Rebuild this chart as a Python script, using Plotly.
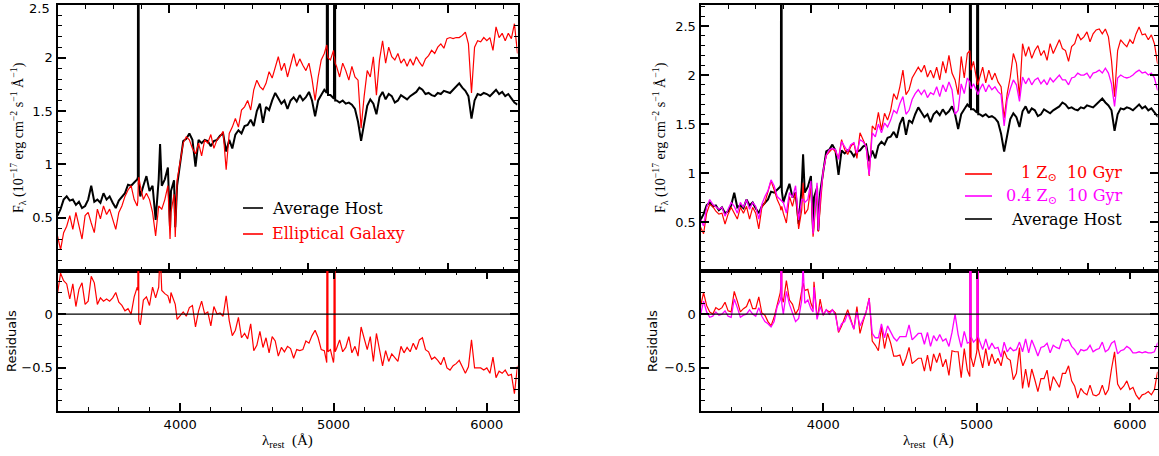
import numpy as np
import plotly.graph_objects as go

# ---------------- data (rest wavelength in Angstrom, flux in 1e-17 erg/cm2/s/A) ----------------
WAVE = [
    3200, 3220, 3240, 3260, 3280, 3300, 3320, 3340, 3360, 3380,
    3400, 3420, 3440, 3460, 3480, 3500, 3520, 3540, 3560, 3580,
    3600, 3620, 3640, 3660, 3680, 3700, 3720, 3724, 3727, 3730, 3740, 3760, 3780,
    3800, 3820, 3840, 3860, 3869, 3880, 3900, 3920, 3934, 3940, 3960, 3968, 3980,
    4000, 4020, 4040, 4060, 4080, 4100, 4120, 4140, 4160, 4180,
    4200, 4220, 4240, 4260, 4280, 4300, 4320, 4340, 4360, 4380,
    4400, 4420, 4440, 4460, 4480, 4500, 4520, 4540, 4560, 4580,
    4600, 4620, 4640, 4660, 4680, 4700, 4720, 4740, 4760, 4780,
    4800, 4820, 4840, 4860, 4880, 4900, 4920, 4940, 4956, 4960, 4964, 4980, 5000, 5003, 5007, 5011,
    5020, 5040, 5060, 5080, 5100, 5120, 5140, 5160, 5180,
    5200, 5220, 5240, 5260, 5280, 5300, 5320, 5340, 5360, 5380,
    5400, 5420, 5440, 5460, 5480, 5500, 5520, 5540, 5560, 5580,
    5600, 5620, 5640, 5660, 5680, 5700, 5720, 5740, 5760, 5780,
    5800, 5820, 5840, 5860, 5880, 5900, 5920, 5940, 5960, 5980,
    6000, 6020, 6040, 6060, 6080, 6100, 6120, 6140, 6160, 6180,
    6200,
]

HOST = [
    0.52, 0.58, 0.67, 0.70, 0.66, 0.67, 0.62, 0.65, 0.59, 0.61,
    0.67, 0.80, 0.65, 0.67, 0.64, 0.73, 0.67, 0.70, 0.64, 0.59,
    0.66, 0.69, 0.73, 0.81, 0.80, 0.83, 0.86, 0.88, 8.00, 0.82, 0.70, 0.80, 0.89,
    0.75, 0.80, 0.48, 0.86, 1.19, 0.80, 0.86, 0.97, 0.40, 0.75, 0.85, 0.41, 0.80,
    1.01, 1.22, 1.24, 1.29, 1.23, 0.98, 1.23, 1.20, 1.23, 1.22,
    1.17, 1.22, 1.23, 1.27, 1.29, 1.12, 1.23, 1.15, 1.28, 1.32,
    1.29, 1.36, 1.37, 1.42, 1.36, 1.50, 1.57, 1.39, 1.54, 1.51,
    1.60, 1.67, 1.62, 1.57, 1.60, 1.52, 1.60, 1.63, 1.59, 1.65,
    1.60, 1.63, 1.68, 1.60, 1.45, 1.60, 1.65, 1.70, 1.67, 8.00, 1.65, 1.65, 1.62, 1.62, 8.00, 1.60,
    1.60, 1.58, 1.60, 1.57, 1.58, 1.56, 1.52, 1.40, 1.22,
    1.40, 1.55, 1.61, 1.57, 1.47, 1.63, 1.68, 1.61, 1.66, 1.64,
    1.58, 1.60, 1.65, 1.63, 1.61, 1.64, 1.66, 1.68, 1.72, 1.70,
    1.66, 1.67, 1.65, 1.64, 1.67, 1.66, 1.69, 1.68, 1.67, 1.70,
    1.73, 1.76, 1.72, 1.69, 1.64, 1.43, 1.60, 1.66, 1.65, 1.67,
    1.66, 1.64, 1.67, 1.70, 1.66, 1.68, 1.64, 1.66, 1.62, 1.58,
    1.56,
]

ELLIPTICAL = [
    0.33, 0.20, 0.36, 0.42, 0.52, 0.39, 0.55, 0.42, 0.30, 0.52,
    0.55, 0.45, 0.36, 0.58, 0.49, 0.61, 0.53, 0.58, 0.49, 0.39,
    0.55, 0.61, 0.70, 0.76, 0.80, 0.67, 0.61, 0.66, 0.82, 0.88, 0.80, 0.67, 0.73,
    0.67, 0.55, 0.33, 0.61, 0.60, 0.58, 0.67, 0.80, 0.30, 0.55, 0.72, 0.32, 0.85,
    1.02, 1.20, 1.26, 1.23, 1.15, 1.10, 1.20, 1.08, 1.23, 1.20,
    1.28, 1.15, 1.23, 1.26, 1.31, 0.95, 1.29, 1.35, 1.43, 1.35,
    1.51, 1.54, 1.60, 1.51, 1.70, 1.79, 1.73, 1.70, 1.76, 1.87,
    1.81, 1.92, 2.01, 1.88, 1.95, 1.82, 1.92, 2.04, 1.92, 1.99,
    1.93, 1.88, 1.95, 1.80, 1.60, 1.82, 1.98, 2.04, 2.12, 2.05, 2.00, 1.98, 2.07, 2.02, 2.00, 1.95,
    1.92, 1.82, 1.95, 1.88, 1.79, 1.92, 1.82, 1.79, 1.34,
    1.64, 1.88, 1.82, 2.01, 1.65, 1.98, 2.16, 1.95, 2.10, 2.01,
    1.98, 2.04, 1.95, 1.99, 1.92, 1.99, 1.93, 2.01, 1.96, 1.92,
    1.99, 2.02, 2.07, 2.04, 2.10, 2.13, 2.09, 2.18, 2.19, 2.18,
    2.19, 2.19, 2.21, 2.24, 2.13, 1.67, 2.10, 2.16, 2.15, 2.19,
    2.16, 2.19, 2.07, 2.29, 2.19, 2.23, 2.16, 2.23, 2.18, 2.32,
    2.04,
]

SSP_1Z_10GYR = [
    0.45, 0.38, 0.59, 0.68, 0.66, 0.61, 0.58, 0.59, 0.48, 0.58,
    0.65, 0.59, 0.53, 0.65, 0.59, 0.66, 0.53, 0.65, 0.59, 0.43,
    0.65, 0.70, 0.80, 0.92, 0.83, 0.73, 0.66, 0.62, 0.64, 0.66, 0.59, 0.49, 0.76,
    0.66, 0.80, 0.43, 0.62, 0.90, 0.58, 0.63, 0.87, 0.35, 0.45, 0.87, 0.40, 0.66,
    1.02, 1.18, 1.22, 1.25, 1.22, 1.15, 1.34, 1.24, 1.19, 1.27,
    1.31, 1.15, 1.41, 1.34, 1.27, 0.97, 1.48, 1.44, 1.62, 1.44,
    1.61, 1.54, 1.64, 1.81, 1.75, 1.88, 2.05, 1.80, 1.85, 1.97,
    2.03, 2.08, 2.03, 2.10, 1.98, 2.05, 1.97, 2.08, 1.95, 2.14,
    2.02, 2.20, 2.02, 1.95, 1.80, 2.19, 1.97, 2.22, 2.25, 2.10, 2.05, 2.14, 1.98, 1.95, 1.90, 1.92,
    1.98, 2.08, 1.92, 2.05, 1.95, 2.02, 1.93, 1.88, 1.56,
    1.81, 1.98, 2.22, 2.12, 1.78, 2.32, 2.19, 2.29, 2.17, 2.25,
    2.30, 2.20, 2.25, 2.15, 2.32, 2.22, 2.29, 2.36, 2.27, 2.25,
    2.14, 2.29, 2.32, 2.42, 2.36, 2.39, 2.44, 2.34, 2.42, 2.46,
    2.47, 2.42, 2.47, 2.39, 2.15, 1.78, 2.25, 2.36, 2.32, 2.29,
    2.36, 2.32, 2.42, 2.49, 2.41, 2.42, 2.36, 2.41, 2.32, 2.12,
    2.10,
]

SSP_04Z_10GYR = [
    0.53, 0.46, 0.65, 0.73, 0.68, 0.65, 0.63, 0.65, 0.56, 0.63,
    0.70, 0.66, 0.59, 0.70, 0.65, 0.73, 0.63, 0.70, 0.66, 0.53,
    0.68, 0.76, 0.82, 0.93, 0.87, 0.76, 0.73, 0.72, 0.72, 0.72, 0.70, 0.59, 0.80,
    0.75, 0.87, 0.52, 0.73, 0.73, 0.70, 0.73, 0.92, 0.38, 0.50, 0.90, 0.42, 0.73,
    1.02, 1.18, 1.24, 1.25, 1.24, 1.14, 1.32, 1.27, 1.22, 1.29,
    1.31, 1.20, 1.34, 1.32, 1.27, 0.98, 1.41, 1.37, 1.50, 1.41,
    1.51, 1.47, 1.54, 1.64, 1.61, 1.71, 1.78, 1.60, 1.64, 1.75,
    1.81, 1.85, 1.80, 1.85, 1.77, 1.82, 1.80, 1.88, 1.78, 1.90,
    1.83, 1.93, 1.85, 1.60, 1.64, 1.91, 1.81, 1.97, 1.93, 1.88, 1.86, 1.91, 1.85, 1.83, 1.80, 1.81,
    1.85, 1.91, 1.83, 1.90, 1.85, 1.88, 1.83, 1.80, 1.48,
    1.75, 1.86, 1.95, 1.90, 1.73, 1.98, 1.91, 1.97, 1.90, 1.95,
    1.97, 1.91, 1.95, 1.90, 1.97, 1.93, 1.97, 2.00, 1.95, 1.95,
    1.90, 1.97, 1.98, 2.02, 2.00, 2.00, 2.02, 1.97, 2.02, 2.03,
    2.05, 2.02, 2.07, 2.02, 1.91, 1.68, 1.97, 2.00, 1.98, 1.97,
    1.98, 2.00, 2.03, 2.05, 2.02, 2.03, 2.00, 2.02, 1.97, 1.85,
    1.85,
]

# residuals shown in the lower panels: host minus template
host = np.array(HOST)
RES_ELL = host - np.array(ELLIPTICAL)
RES_1Z = host - np.array(SSP_1Z_10GYR)
RES_04Z = host - np.array(SSP_04Z_10GYR)

# axis ticks
X_MAJOR = [4000, 5000, 6000]
X_MINOR = [3200, 3400, 3600, 3800, 4200, 4400, 4600, 4800, 5200, 5400, 5600, 5800, 6200, 6400]
Y_UP_TICKS = [0.5, 1, 1.5, 2, 2.5]
Y_UP_TEXT = ["0.5", "1", "1.5", "2", "2.5"]
Y_LO_TICKS = [-0.5, 0]
Y_LO_TEXT = ["\u22120.5", "0"]

# ---------------- layout geometry ----------------
FW, FH = 1159, 456
def fx(p):
    return p / FW
def fy(p):
    return (FH - p) / FH

XL = [fx(57.5), fx(517.5)]
XR = [fx(700.5), fx(1157.5)]
YU = [fy(271), fy(4.5)]
YD = [fy(411), fy(271)]
XRANGE_L = [3200, 6200]
XRANGE_R = [3200, 6180]
YRANGE_UL = [0, 2.5]
YRANGE_UR = [0, 2.72]

# the original top panels draw their tick marks on a 3200-6500 scale
def top_scale(xr, vals):
    return [xr[0] + (v - 3200) * (xr[1] - xr[0]) / 3300.0 for v in vals]

RED = "#ff0000"
MAG = "#ff00ff"

fig = go.Figure()

def line(x, y, xa, ya, color, width):
    fig.add_trace(go.Scatter(x=x, y=y, mode="lines", xaxis=xa, yaxis=ya,
                             line=dict(color=color, width=width), showlegend=False,
                             hoverinfo="skip"))

# upper left
line(WAVE, HOST, "x", "y", "black", 2.0)
line(WAVE, ELLIPTICAL, "x", "y", RED, 1.2)
# lower left
line(WAVE, RES_ELL, "x2", "y2", RED, 1.2)
# upper right
line(WAVE, HOST, "x3", "y3", "black", 2.0)
line(WAVE, SSP_1Z_10GYR, "x3", "y3", RED, 1.2)
line(WAVE, SSP_04Z_10GYR, "x3", "y3", MAG, 1.3)
# lower right
line(WAVE, RES_1Z, "x4", "y4", RED, 1.2)
line(WAVE, RES_04Z, "x4", "y4", MAG, 1.3)

TICKFONT = dict(family="DejaVu Sans", size=13, color="black")
base = dict(showline=True, linewidth=2, linecolor="black", mirror="allticks",
            ticks="inside", ticklen=8, tickwidth=1.5, tickcolor="black",
            showgrid=False, zeroline=False, tickfont=TICKFONT, fixedrange=True)

def xaxis_top(dom, xr, anchor):
    return dict(base, domain=dom, range=xr, anchor=anchor, showticklabels=False,
                tickmode="array", tickvals=top_scale(xr, X_MAJOR),
                minor=dict(ticks="inside", ticklen=4, tickwidth=1.2, tickcolor="black",
                           tickmode="array", tickvals=top_scale(xr, X_MINOR), showgrid=False))

def xaxis_bot(dom, xr, anchor):
    return dict(base, domain=dom, range=xr, anchor=anchor, showticklabels=True,
                tickmode="array", tickvals=X_MAJOR, ticktext=[str(v) for v in X_MAJOR],
                minor=dict(ticks="inside", ticklen=4, tickwidth=1.2, tickcolor="black",
                           tickmode="array", tickvals=X_MINOR, showgrid=False))

def yaxis_up(dom, yr, anchor):
    # labels that would sit on the very top edge are written as annotations below
    vals = [v for v in Y_UP_TICKS if v < yr[1] - 1e-9]
    text = [t for v, t in zip(Y_UP_TICKS, Y_UP_TEXT) if v < yr[1] - 1e-9]
    return dict(base, domain=dom, range=yr, anchor=anchor, tickmode="array",
                tickvals=vals, ticktext=text,
                minor=dict(ticks="inside", ticklen=4, tickwidth=1.2, tickcolor="black",
                           dtick=0.1, tick0=0, showgrid=False))

def yaxis_lo(dom, yr, anchor):
    return dict(base, domain=dom, range=yr, anchor=anchor, tickmode="array",
                tickvals=Y_LO_TICKS, ticktext=Y_LO_TEXT,
                minor=dict(ticks="inside", ticklen=4, tickwidth=1.2, tickcolor="black",
                           dtick=0.1, tick0=0, showgrid=False))

fig.update_layout(
    width=FW, height=FH, margin=dict(l=0, r=0, t=0, b=0),
    paper_bgcolor="white", plot_bgcolor="white", showlegend=False,
    xaxis=xaxis_top(XL, XRANGE_L, "y"),
    yaxis=yaxis_up(YU, YRANGE_UL, "x"),
    xaxis2=xaxis_bot(XL, XRANGE_L, "y2"),
    yaxis2=yaxis_lo(YD, [-0.9, 0.4], "x2"),
    xaxis3=xaxis_top(XR, XRANGE_R, "y3"),
    yaxis3=yaxis_up(YU, YRANGE_UR, "x3"),
    xaxis4=xaxis_bot(XR, XRANGE_R, "y4"),
    yaxis4=yaxis_lo(YD, [-0.9, 0.4], "x4"),
)

# zero lines in residual panels
for xa, ya in (("x2", "y2"), ("x4", "y4")):
    fig.add_shape(type="line", xref=xa + " domain", yref=ya, x0=0, x1=1, y0=0, y1=0,
                  line=dict(color="black", width=1.2), layer="above")

SERIF = "Liberation Serif"
ytitle = ("F<sub>\u03bb</sub> (10<sup>\u221217</sup> erg cm<sup>\u22122</sup> "
          "s<sup>\u22121</sup> \u00c5<sup>\u22121</sup>)")
xtitle = "\u03bb<sub>rest</sub>  (\u00c5)"

ann = []
# top-edge tick label of the upper-left panel (kept inside the page)
ann.append(dict(x=fx(51), y=1.0, xref="paper", yref="paper", text="2.5",
                showarrow=False, xanchor="right", yanchor="top", borderpad=0,
                font=TICKFONT))
for xc in (18, 660):
    ann.append(dict(x=fx(xc), y=fy(138), xref="paper", yref="paper", text=ytitle,
                    textangle=-90, showarrow=False, xanchor="center", yanchor="middle",
                    font=dict(family=SERIF, size=14, color="black")))
for xc in (11, 652):
    ann.append(dict(x=fx(xc), y=fy(341), xref="paper", yref="paper", text="Residuals",
                    textangle=-90, showarrow=False, xanchor="center", yanchor="middle",
                    font=dict(family="DejaVu Sans", size=13, color="black")))
for xc in (287, 929):
    ann.append(dict(x=fx(xc), y=fy(441), xref="paper", yref="paper", text=xtitle,
                    showarrow=False, xanchor="center", yanchor="middle",
                    font=dict(family=SERIF, size=15, color="black")))

LEGFONT = "DejaVu Serif"
# left legend
left_items = [("Average Host", "black", 208), ("Elliptical Galaxy", RED, 234)]
for txt, col, yc in left_items:
    fig.add_shape(type="line", xref="paper", yref="paper", x0=fx(243), x1=fx(263),
                  y0=fy(yc), y1=fy(yc), line=dict(color=col, width=1.6))
    ann.append(dict(x=fx(270), y=fy(yc), xref="paper", yref="paper", text=txt,
                    showarrow=False, xanchor="left", yanchor="middle",
                    font=dict(family=LEGFONT, size=16, color=col)))
# right legend
right_items = [("1 Z<sub>\u2299</sub>  10 Gyr", RED, 174),
               ("0.4 Z<sub>\u2299</sub>  10 Gyr", MAG, 196),
               ("Average Host", "black", 219)]
for txt, col, yc in right_items:
    fig.add_shape(type="line", xref="paper", yref="paper", x0=fx(965), x1=fx(992),
                  y0=fy(yc), y1=fy(yc), line=dict(color=col, width=1.6))
    ann.append(dict(x=fx(1124), y=fy(yc), xref="paper", yref="paper", text=txt,
                    showarrow=False, xanchor="right", yanchor="middle",
                    font=dict(family=LEGFONT, size=16, color=col)))

fig.update_layout(annotations=ann)

fig.write_html("out.html")
